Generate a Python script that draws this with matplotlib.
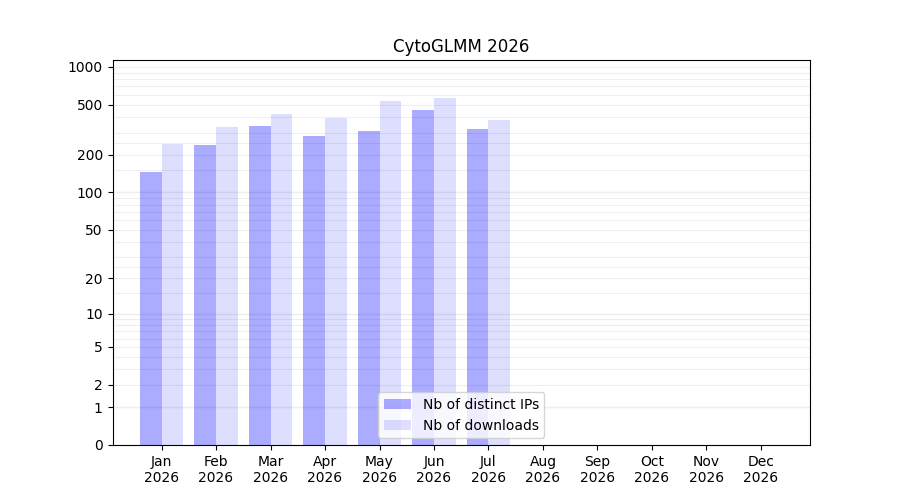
import numpy as np
import matplotlib.pyplot as plt

months = ['Jan', 'Feb', 'Mar', 'Apr', 'May', 'Jun', 'Jul', 'Aug', 'Sep', 'Oct', 'Nov', 'Dec']
year = '2026'
ips = [146, 240, 339, 282, 310, 455, 321]
downloads = [244, 333, 423, 393, 536, 567, 379]

def fwd(x):
    return np.log10(1 + np.clip(x, 0, None))

def inv(y):
    return 10 ** y - 1

fig, ax = plt.subplots(figsize=(9, 5), dpi=100)
ax.set_yscale('function', functions=(fwd, inv))

x = np.arange(len(months))
w = 0.4
ax.bar(x[:len(ips)] - w / 2, ips, w, color='blue', alpha=0.33, label='Nb of distinct IPs', zorder=2)
ax.bar(x[:len(downloads)] + w / 2, downloads, w, color='blue', alpha=0.13, label='Nb of downloads', zorder=2)

ax.set_ylim(0, 1135)
major = [0, 1, 2, 5, 10, 20, 50, 100, 200, 500, 1000]
ax.set_yticks(major)
ax.set_yticklabels([str(v) for v in major])
minor = list(range(3, 10)) + list(range(30, 100, 10)) + list(range(300, 1000, 100))
minor += [15, 25, 150, 250]
ax.set_yticks(minor, minor=True)
ax.tick_params(axis='y', which='minor', length=0)
for v in [1, 10, 100]:
    ax.axhline(v, color='#bbbbbb', lw=0.8, zorder=1)
ax.grid(axis='y', which='both', color='#eeeeee', lw=0.8, zorder=0)

ax.set_xticks(x)
ax.set_xticklabels([m + '\n' + year for m in months])
ax.set_xlim(-0.9, 11.9)
ax.set_title('CytoGLMM 2026')
ax.legend(loc='lower center')
fig.savefig('out.png')
